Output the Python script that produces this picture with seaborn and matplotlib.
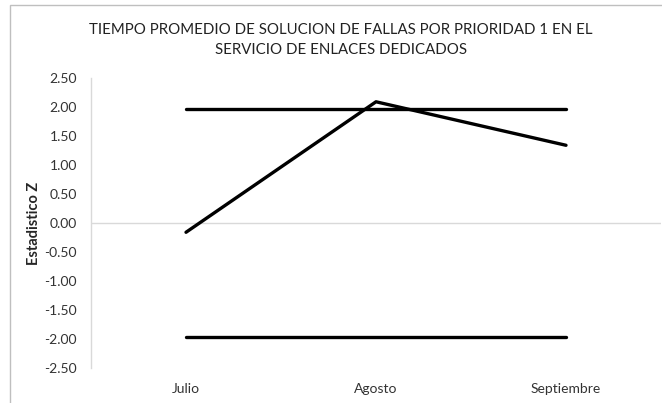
import matplotlib.pyplot as plt
import pandas as pd
import seaborn as sns
from matplotlib.patches import Rectangle

meses = ["Julio", "Agosto", "Septiembre"]
z_estadistico = [-0.16, 2.09, 1.34]
limite_superior = [1.96, 1.96, 1.96]
limite_inferior = [-1.96, -1.96, -1.96]
y_ticks = [2.5, 2.0, 1.5, 1.0, 0.5, 0.0, -0.5, -1.0, -1.5, -2.0, -2.5]

sns.set_style("white")
plt.rcParams["font.family"] = ["Lato", "DejaVu Sans"]

df = pd.DataFrame({
    "mes": meses * 3,
    "valor": z_estadistico + limite_superior + limite_inferior,
    "serie": ["Z"] * 3 + ["sup"] * 3 + ["inf"] * 3,
})

fig = plt.figure(figsize=(6.62, 4.03), dpi=100)
ax = fig.add_axes([91 / 662, 1 - 368 / 403, 570 / 662, 290 / 403])

sns.lineplot(data=df, x="mes", y="valor", units="serie", estimator=None,
             sort=False, color="black", lw=2.4, ax=ax)

ax.set_xlim(-0.5, 2.5)
ax.set_ylim(-2.5, 2.5)
ax.set_yticks(y_ticks)
ax.set_yticklabels([f"{v:.2f}" for v in y_ticks], fontsize=10, color="#333333")
ax.tick_params(axis="y", length=0, pad=10)
ax.axhline(0, color="#d9d9d9", lw=1, zorder=0)

for side in ["top", "right", "bottom"]:
    ax.spines[side].set_visible(False)
ax.spines["left"].set_color("#d9d9d9")
ax.spines["left"].set_linewidth(1)

ax.set_xticks(range(len(meses)))
ax.set_xticklabels(meses)
ax.tick_params(axis="x", length=0, labelsize=10, labelcolor="#333333", pad=11)

ax.set_xlabel("")
ax.set_ylabel("Estadistico Z", fontsize=10.5, fontweight="bold")
ax.yaxis.set_label_coords(-0.088, 0.5)

fig.text(0.515, 1 - 40 / 403,
         "TIEMPO PROMEDIO DE SOLUCION DE FALLAS POR PRIORIDAD 1 EN EL\nSERVICIO DE ENLACES DEDICADOS",
         ha="center", va="center", fontsize=10.8, color="#222222", linespacing=1.6)

fig.patches.append(Rectangle((10 / 662, -0.01), 1.0, 1 - 5 / 403 + 0.01,
                             transform=fig.transFigure, fill=False,
                             edgecolor="#bfbfbf", lw=1))

fig.savefig("out.png", dpi=100)
